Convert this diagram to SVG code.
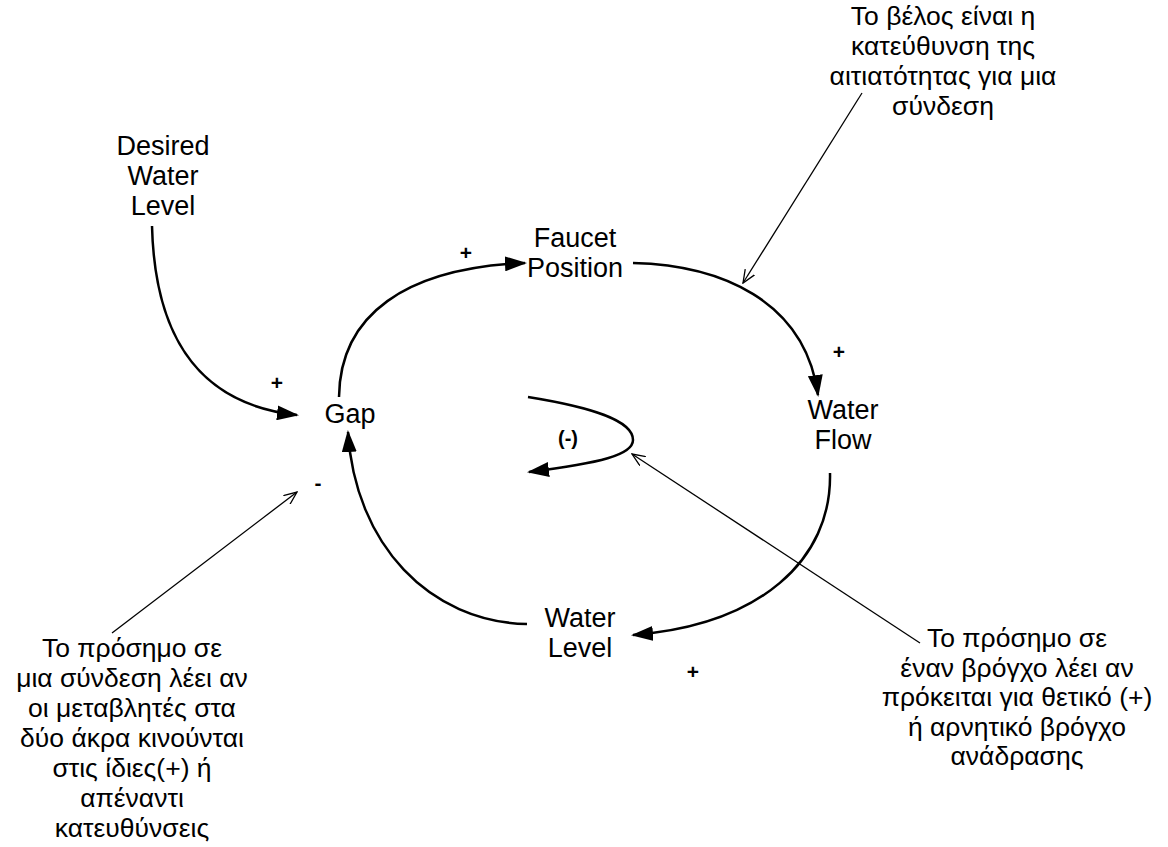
<svg xmlns="http://www.w3.org/2000/svg" width="1168" height="847" viewBox="0 0 1168 847">
  <style>
    .lbl { font-family: "Liberation Sans", Arial, sans-serif; font-size: 27px; fill: #000; text-anchor: middle; }
    .note { font-family: "Liberation Sans", Arial, "Noto Sans", sans-serif; font-size: 26.5px; fill: #000; text-anchor: middle; }
    .sign { font-family: "Liberation Sans", Arial, sans-serif; font-size: 21px; font-weight: bold; fill: #000; text-anchor: middle; }
    .loop { font-family: "Liberation Sans", Arial, sans-serif; font-size: 20px; font-weight: bold; fill: #000; text-anchor: middle; }
    .link { fill: none; stroke: #000; stroke-width: 2.5; marker-end: url(#solid); }
    .leader { fill: none; stroke: #000; stroke-width: 1.3; marker-end: url(#open); }
  </style>
  <defs>
    <marker id="solid" viewBox="0 0 22 15" refX="20" refY="7.5" markerWidth="22" markerHeight="15" markerUnits="userSpaceOnUse" orient="auto">
      <path d="M0,0 L22,7.5 L0,15 z" fill="#000"/>
    </marker>
    <marker id="open" viewBox="0 0 14 12" refX="13" refY="6" markerWidth="14" markerHeight="12" markerUnits="userSpaceOnUse" orient="auto">
      <path d="M0,0.5 L13,6 L0,11.5" fill="none" stroke="#000" stroke-width="1.3"/>
    </marker>
  </defs>
  <rect width="1168" height="847" fill="#fff"/>

  <g id="connectors">
    <path id="desired-to-gap" class="link" d="M152,226 C155,345 205,405 297,415"/>
    <path id="gap-to-faucet" class="link" d="M339,397 C340,315 405,268 525,263"/>
    <path id="faucet-to-flow" class="link" d="M633,263 C720,265 805,300 818,395"/>
    <path id="flow-to-level" class="link" d="M830,473 C832,560 760,625 633,635"/>
    <path id="level-to-gap" class="link" d="M527,624 C430,622 355,545 348,432"/>
    <path id="loop-symbol" class="link" d="M528,397 C590,407 633,420 633,440 C633,455 600,463 529,472"/>
    <line id="leader-arrow" class="leader" x1="862" y1="93" x2="743" y2="283"/>
    <line id="leader-link-sign" class="leader" x1="112" y1="633" x2="297" y2="492"/>
    <line id="leader-loop-sign" class="leader" x1="920" y1="643" x2="632" y2="454"/>
  </g>

  <g id="polarities">
    <text class="sign" x="277" y="390">+</text>
    <text class="sign" x="466" y="260">+</text>
    <text class="sign" x="839" y="359">+</text>
    <text class="sign" x="693" y="679">+</text>
    <text class="sign" x="318" y="490">-</text>
    <text class="loop" x="568" y="445">(-)</text>
  </g>

  <g id="desired-water-level">
    <text class="lbl" x="163" y="155">Desired</text>
    <text class="lbl" x="163" y="185">Water</text>
    <text class="lbl" x="163" y="215">Level</text>
  </g>
  <g id="gap">
    <text class="lbl" x="350" y="423">Gap</text>
  </g>
  <g id="faucet-position">
    <text class="lbl" x="575" y="247">Faucet</text>
    <text class="lbl" x="575" y="277">Position</text>
  </g>
  <g id="water-flow">
    <text class="lbl" x="843" y="419">Water</text>
    <text class="lbl" x="843" y="449">Flow</text>
  </g>
  <g id="water-level">
    <text class="lbl" x="580" y="627">Water</text>
    <text class="lbl" x="580" y="657">Level</text>
  </g>

  <g id="note-arrow">
    <text class="note" x="943" y="25">Το βέλος είναι η</text>
    <text class="note" x="943" y="55">κατεύθυνση της</text>
    <text class="note" x="943" y="85">αιτιατότητας για μια</text>
    <text class="note" x="943" y="115">σύνδεση</text>
  </g>
  <g id="note-link-sign">
    <text class="note" x="132" y="657">Το πρόσημο σε</text>
    <text class="note" x="132" y="687">μια σύνδεση λέει αν</text>
    <text class="note" x="132" y="717">οι μεταβλητές στα</text>
    <text class="note" x="132" y="747">δύο άκρα κινούνται</text>
    <text class="note" x="132" y="777">στις ίδιες(+) ή</text>
    <text class="note" x="132" y="807">απέναντι</text>
    <text class="note" x="132" y="837">κατευθύνσεις</text>
  </g>
  <g id="note-loop-sign">
    <text class="note" x="1017" y="647">Το πρόσημο σε</text>
    <text class="note" x="1017" y="677">έναν βρόγχο λέει αν</text>
    <text class="note" x="1017" y="706">πρόκειται για θετικό (+)</text>
    <text class="note" x="1017" y="736">ή αρνητικό βρόγχο</text>
    <text class="note" x="1017" y="765">ανάδρασης</text>
  </g>
</svg>
